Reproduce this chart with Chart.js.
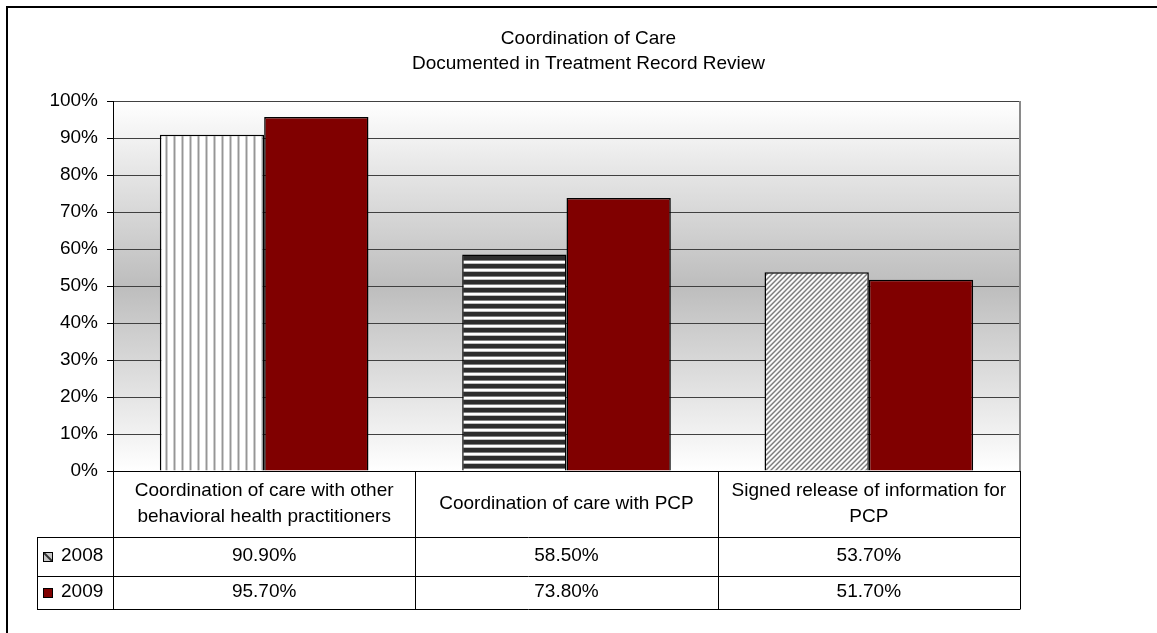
<!DOCTYPE html>
<html><head><meta charset="utf-8">
<script src="https://cdn.jsdelivr.net/npm/chart.js@4"></script>
<style>html,body{margin:0;padding:0;background:#fff;overflow:hidden}canvas{display:block}</style>
</head><body>
<canvas id="c" width="1157" height="633"></canvas>
<script>
// ---- data ----
const titleLines = ['Coordination of Care', 'Documented in Treatment Record Review'];
const categories = [
  ['Coordination of care with other', 'behavioral health practitioners'],
  ['Coordination of care with PCP'],
  ['Signed release of information for', 'PCP']
];
const seriesNames = ['2008', '2009'];
const values2008 = [90.9, 58.5, 53.7];
const values2009 = [95.7, 73.8, 51.7];
const yTickLabels = ['0%','10%','20%','30%','40%','50%','60%','70%','80%','90%','100%'];

// ---- styling ----
const FONT = "'Liberation Sans', Arial, sans-serif";
const FS = 19;
const canvas = document.getElementById('c');
const ctx = canvas.getContext('2d');

function makePattern(w, h, fn) {
  const c = document.createElement('canvas');
  c.width = w; c.height = h;
  const g = c.getContext('2d');
  const img = g.createImageData(w, h);
  for (let y = 0; y < h; y++) for (let x = 0; x < w; x++) {
    const v = fn(x, y); const i = (y * w + x) * 4;
    img.data[i] = v; img.data[i+1] = v; img.data[i+2] = v; img.data[i+3] = 255;
  }
  g.putImageData(img, 0, 0);
  return ctx.createPattern(c, 'repeat');
}
const vCols = [255,255,255,255,255,205,150,205];
const hRows = [45,45,45,45,130,255,255,190];
const dVals = [125,175,250,250,195];
const patV = makePattern(8, 8, (x) => vCols[x]);
const patH = makePattern(8, 8, (x, y) => hRows[y]);
const patD = makePattern(5, 5, (x, y) => dVals[(x + y) % 5]);

const bgPlugin = {
  id: 'bg',
  beforeDraw(chart) {
    const { ctx, chartArea: a } = chart;
    ctx.save();
    ctx.fillStyle = '#fff';
    ctx.fillRect(0, 0, chart.width, chart.height);
    const g = ctx.createLinearGradient(0, a.top, 0, a.bottom);
    g.addColorStop(0, '#ffffff');
    g.addColorStop(0.5, '#bdbdbd');
    g.addColorStop(1, '#ffffff');
    ctx.fillStyle = g;
    ctx.fillRect(a.left, a.top, a.right - a.left, a.bottom - a.top);
    // outer frame (top & left visible)
    ctx.strokeStyle = '#000';
    ctx.lineWidth = 2;
    ctx.beginPath();
    ctx.moveTo(7, chart.height + 5);
    ctx.lineTo(7, 7);
    ctx.lineTo(chart.width + 5, 7);
    ctx.stroke();
    ctx.restore();
  }
};

const tablePlugin = {
  id: 'table',
  afterDraw(chart) {
    const { ctx, chartArea: a, scales: { x } } = chart;
    const n = categories.length;
    const half = (x.getPixelForValue(1) - x.getPixelForValue(0)) / 2;
    const centers = categories.map((_, i) => x.getPixelForValue(i));
    const edges = [centers[0] - half].concat(centers.map(c => c + half));
    const rTop = a.bottom, rCat = rTop + 66, r1 = rCat + 39, r2 = r1 + 33;
    const legLeft = 37;
    ctx.save();
    // right plot border
    ctx.strokeStyle = '#8a8a8a';
    ctx.lineWidth = 2;
    ctx.beginPath();
    ctx.moveTo(a.right, a.top); ctx.lineTo(a.right, a.bottom);
    ctx.stroke();
    // table lines
    ctx.strokeStyle = '#000';
    ctx.lineWidth = 1;
    ctx.beginPath();
    [rCat, r1, r2].forEach(y => { ctx.moveTo(legLeft, Math.round(y) + 0.5); ctx.lineTo(a.right, Math.round(y) + 0.5); });
    ctx.moveTo(legLeft + 0.5, rCat); ctx.lineTo(legLeft + 0.5, r2 + 0.5);
    edges.forEach(ex => { const xx = Math.round(ex) + 0.5; ctx.moveTo(xx, rTop); ctx.lineTo(xx, r2 + 0.5); });
    ctx.stroke();
    // text
    ctx.fillStyle = '#000';
    ctx.font = FS + 'px ' + FONT;
    ctx.textAlign = 'center';
    ctx.textBaseline = 'middle';
    const catMid = (rTop + rCat) / 2 - 0.5;
    categories.forEach((lines, i) => {
      const lh = 26;
      const y0 = catMid - (lines.length - 1) * lh / 2;
      lines.forEach((t, j) => ctx.fillText(t, centers[i], y0 + j * lh));
    });
    const rowMids = [(rCat + r1) / 2 - 1, (r1 + r2) / 2 - 1];
    const rowsVals = [values2008, values2009];
    rowsVals.forEach((vals, r) => {
      vals.forEach((v, i) => ctx.fillText(v.toFixed(2) + '%', centers[i], rowMids[r]));
    });
    // legend keys
    ctx.textAlign = 'left';
    seriesNames.forEach((name, r) => {
      const ym = rowMids[r] + 1;
      const kx = 43, ky = Math.round(ym - 5), ks = 10;
      if (r === 0) {
        ctx.fillStyle = '#c8c8c8';
        ctx.fillRect(kx, ky, ks, ks);
        ctx.strokeStyle = '#333';
        ctx.lineWidth = 2;
        ctx.beginPath(); ctx.moveTo(kx + 1, ky + 1); ctx.lineTo(kx + ks - 1, ky + ks - 1); ctx.stroke();
      } else {
        ctx.fillStyle = '#800000';
        ctx.fillRect(kx, ky, ks, ks);
      }
      ctx.strokeStyle = '#000';
      ctx.lineWidth = 1;
      ctx.strokeRect(kx + 0.5, ky + 0.5, ks - 1, ks - 1);
      ctx.fillStyle = '#000';
      ctx.fillText(name, 61, rowMids[r]);
    });
    ctx.restore();
  }
};

new Chart(ctx, {
  type: 'bar',
  data: {
    labels: categories.map(c => c.join(' ')),
    datasets: [
      { label: seriesNames[0], data: values2008, backgroundColor: [patV, patH, patD],
        borderColor: '#000', borderWidth: 1.5, categoryPercentage: 0.69, barPercentage: 1 },
      { label: seriesNames[1], data: values2009, backgroundColor: '#800000',
        borderColor: '#000', borderWidth: 1.5, categoryPercentage: 0.69, barPercentage: 1 }
    ]
  },
  options: {
    responsive: false,
    animation: false,
    devicePixelRatio: 1,
    layout: { padding: { left: 20, right: 0, top: 0, bottom: 162 } },
    plugins: {
      legend: { display: false },
      tooltip: { enabled: false },
      title: {
        display: true, text: titleLines, color: '#000',
        font: { family: FONT, size: FS, weight: 'normal', lineHeight: '25px' },
        padding: { top: 26, bottom: 25 }
      }
    },
    scales: {
      x: { display: false, offset: true },
      y: {
        min: 0, max: 100,
        ticks: { stepSize: 10, callback: (v, i) => yTickLabels[i], color: '#000',
                 font: { family: FONT, size: FS }, padding: 9 },
        grid: { color: c => (c.tick && c.tick.value === 0) ? '#000' : '#404040',
                tickColor: '#000', tickLength: 6, lineWidth: 1 },
        border: { color: '#000', width: 1 },
        afterFit: s => { s.width = 93; }
      },
      yR: {
        position: 'right', display: true,
        grid: { display: false }, ticks: { display: false }, border: { display: false },
        afterFit: s => { s.width = 137; }
      }
    }
  },
  plugins: [bgPlugin, tablePlugin]
});
</script>
</body></html>
